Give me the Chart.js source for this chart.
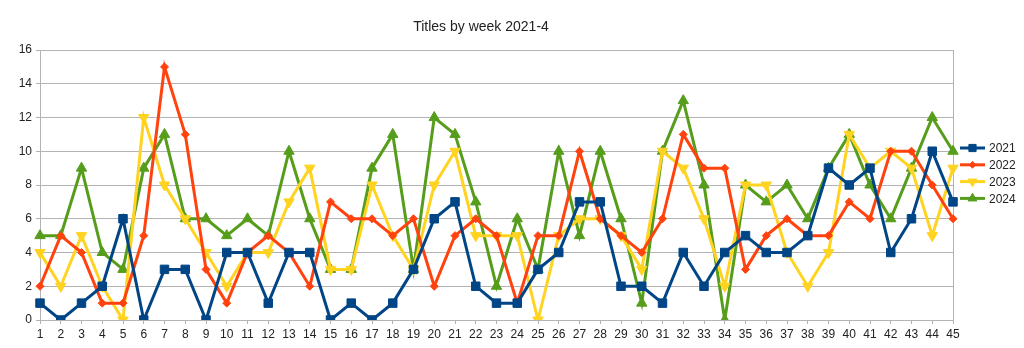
<!DOCTYPE html>
<html>
<head>
<meta charset="utf-8">
<script src="https://cdn.jsdelivr.net/npm/chart.js@4"></script>
<style>
  html, body { margin: 0; padding: 0; background: #fff; }
  #wrap { width: 1024px; height: 348px; }
</style>
</head>
<body>
<div id="wrap"><canvas id="chart" width="1024" height="348"></canvas></div>
<script>
const weeks = Array.from({ length: 45 }, (_, i) => String(i + 1));
const yTicks = [0, 2, 4, 6, 8, 10, 12, 14, 16];

const titles2021 = [1, 0, 1, 2, 6, 0, 3, 3, 0, 4, 4, 1, 4, 4, 0, 1, 0, 1, 3, 6, 7, 2, 1, 1, 3, 4, 7, 7, 2, 2, 1, 4, 2, 4, 5, 4, 4, 5, 9, 8, 9, 4, 6, 10, 7];
const titles2022 = [2, 5, 4, 1, 1, 5, 15, 11, 3, 1, 4, 5, 4, 2, 7, 6, 6, 5, 6, 2, 5, 6, 5, 1, 5, 5, 10, 6, 5, 4, 6, 11, 9, 9, 3, 5, 6, 5, 5, 7, 6, 10, 10, 8, 6];
const titles2023 = [4, 2, 5, 2, 0, 12, 8, 6, 4, 2, 4, 4, 7, 9, 3, 3, 8, 5, 3, 8, 10, 5, 5, 5, 0, 5, 6, 6, 5, 3, 10, 9, 6, 2, 8, 8, 4, 2, 4, 11, 9, 10, 9, 5, 9];
const titles2024 = [5, 5, 9, 4, 3, 9, 11, 6, 6, 5, 6, 5, 10, 6, 3, 3, 9, 11, 3, 12, 11, 7, 2, 6, 3, 10, 5, 10, 6, 1, 10, 13, 8, 0, 8, 7, 8, 6, 9, 11, 8, 6, 9, 12, 10];

const FONT = '"Liberation Sans", Arial, sans-serif';
const GRID = '#b3b3b3';

function series(label, data, color, pointStyle, radius, rotation) {
    return {
        label: label,
        data: data,
        borderColor: color,
        backgroundColor: color,
        borderWidth: 3,
        pointStyle: pointStyle,
        pointRadius: radius,
        pointHoverRadius: radius,
        pointRotation: rotation || 0,
        pointBorderWidth: 1,
        tension: 0
    };
}

// draws title and line+marker legend like the office-suite original
const decorPlugin = {
    id: 'decor',
    afterDraw(chart) {
        const ctx = chart.ctx;
        ctx.save();
        ctx.fillStyle = '#222';
        ctx.font = '14px ' + FONT;
        ctx.textAlign = 'center';
        ctx.textBaseline = 'middle';
        ctx.fillText('Titles by week 2021-4', 481, 27);

        ctx.textAlign = 'left';
        ctx.font = '12px ' + FONT;
        chart.data.datasets.forEach((ds, i) => {
            const y = 148 + i * 16.8;
            ctx.strokeStyle = ds.borderColor;
            ctx.lineWidth = 3;
            ctx.beginPath();
            ctx.moveTo(960, y);
            ctx.lineTo(985, y);
            ctx.stroke();
            ctx.fillStyle = ds.backgroundColor;
            ctx.strokeStyle = ds.borderColor;
            ctx.lineWidth = 1;
            Chart.helpers.drawPoint(ctx, {
                pointStyle: ds.pointStyle,
                rotation: ds.pointRotation,
                radius: ds.pointRadius * 0.85,
                borderWidth: 1
            }, 972.5, y);
            ctx.fillStyle = '#222';
            ctx.fillText(ds.label, 989, y + 1);
        });
        ctx.restore();
    }
};

new Chart(document.getElementById('chart'), {
    type: 'line',
    data: {
        labels: weeks,
        datasets: [
            series('2021', titles2021, '#004586', 'rect', 6),
            series('2022', titles2022, '#ff420e', 'rectRot', 4),
            series('2023', titles2023, '#ffd320', 'triangle', 6, 180),
            series('2024', titles2024, '#579d1c', 'triangle', 6)
        ]
    },
    options: {
        responsive: false,
        animation: false,
        layout: { padding: { top: 50, right: 71, bottom: 0, left: 0 } },
        plugins: {
            legend: { display: false },
            title: { display: false },
            tooltip: { enabled: false }
        },
        scales: {
            x: {
                offset: false,
                grid: {
                    color: ctx => ctx.index === weeks.length - 1 ? GRID : 'rgba(0,0,0,0)',
                    tickColor: GRID,
                    tickLength: 4,
                    lineWidth: 1
                },
                border: { display: false },
                ticks: {
                    color: '#222',
                    font: { family: FONT, size: 12 },
                    maxRotation: 0,
                    autoSkip: false,
                    padding: 3
                },
                afterFit(scale) { scale.height = 28; }
            },
            y: {
                min: yTicks[0],
                max: yTicks[yTicks.length - 1],
                afterBuildTicks(scale) { scale.ticks = yTicks.map(v => ({ value: v })); },
                grid: { color: GRID, tickColor: GRID, tickLength: 4 },
                border: { display: true, color: GRID },
                ticks: {
                    color: '#222',
                    font: { family: FONT, size: 12 },
                    padding: 4
                },
                afterFit(scale) { scale.width = 40; }
            }
        }
    },
    plugins: [decorPlugin]
});
</script>
</body>
</html>
